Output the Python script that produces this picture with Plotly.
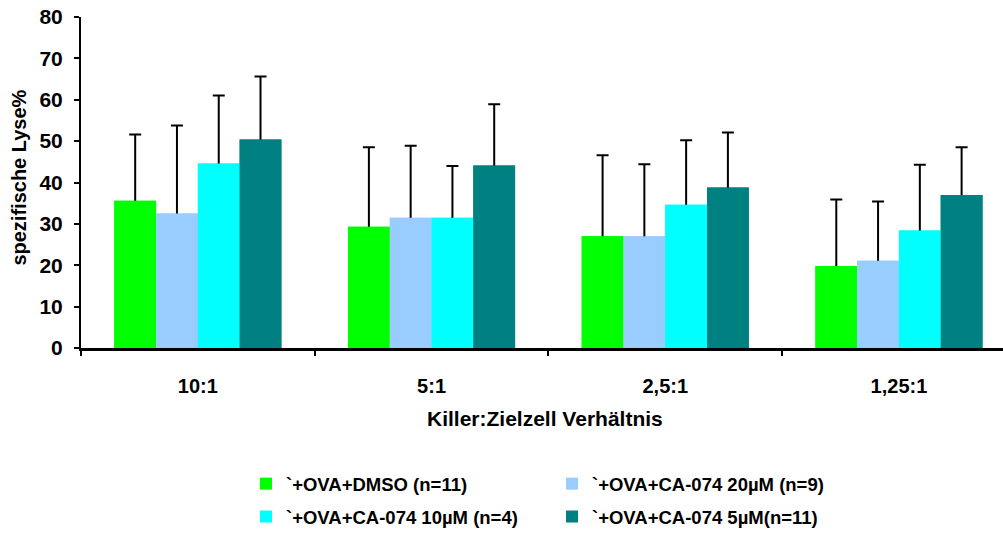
import plotly.graph_objects as go

# Effector:target ratios on the x axis
categories = ["10:1", "5:1", "2,5:1", "1,25:1"]

# Mean specific lysis (%) per treatment group
dmso_mean = [35.6, 29.3, 27.0, 19.8]
ca20_mean = [32.5, 31.5, 27.0, 21.1]
ca10_mean = [44.6, 31.5, 34.6, 28.4]
ca5_mean = [50.4, 44.1, 38.8, 37.0]

# Upper error (SD) per treatment group
dmso_err = [16.0, 19.2, 19.6, 16.1]
ca20_err = [21.3, 17.4, 17.4, 14.3]
ca10_err = [16.4, 12.5, 15.6, 15.9]
ca5_err = [15.2, 14.8, 13.3, 11.5]

series_names = [
    "`+OVA+DMSO (n=11)",
    "`+OVA+CA-074 20µM (n=9)",
    "`+OVA+CA-074 10µM (n=4)",
    "`+OVA+CA-074 5µM(n=11)",
]
series_means = [dmso_mean, ca20_mean, ca10_mean, ca5_mean]
series_errs = [dmso_err, ca20_err, ca10_err, ca5_err]
colors = ["#00FF00", "#99CCFF", "#00FFFF", "#008080"]
legend_ids = ["legend", "legend", "legend2", "legend2"]

FONT = "Liberation Sans, Arial, Helvetica, sans-serif"

# Error-bar stems start a little inside the bar so the lower cap is hidden
# underneath the overlay bars
STEM_INSET = 0.7

fig = go.Figure()

# Bars with upward error bars
for i, (name, vals, errs, col) in enumerate(zip(series_names, series_means, series_errs, colors)):
    fig.add_trace(go.Bar(
        x=categories, y=vals, name=name,
        marker=dict(color=col, line=dict(width=0)),
        offsetgroup=str(i),
        legend=legend_ids[i],
        error_y=dict(type="data", array=errs, arrayminus=[STEM_INSET] * len(errs),
                     symmetric=False, color="black", thickness=2, width=6),
        hoverinfo="skip",
    ))

# Same bars drawn again on top so the lower error-bar cap is covered
for i, (vals, col) in enumerate(zip(series_means, colors)):
    fig.add_trace(go.Bar(
        x=categories, y=vals, showlegend=False,
        marker=dict(color=col, line=dict(width=0)),
        offsetgroup=str(i), hoverinfo="skip",
    ))

PLOT_L, PLOT_R = 81, 1003
plot_w = PLOT_R - PLOT_L
cat_px = 233.7
x_max = -0.5 + plot_w / cat_px

PLOT_T, PLOT_B = 17, 355
plot_h = PLOT_B - PLOT_T


def py(y_pixel):
    return (PLOT_B - y_pixel) / plot_h


def px(x_pixel):
    return (x_pixel - PLOT_L) / plot_w


legend_common = dict(
    orientation="h", xanchor="left", yanchor="middle",
    x=px(246), entrywidth=261, entrywidthmode="pixels",
    bgcolor="rgba(0,0,0,0)", borderwidth=0,
    font=dict(family=FONT, size=18.5, color="black", weight="bold"),
    itemclick=False, itemdoubleclick=False,
)

fig.update_layout(
    width=1003, height=536,
    margin=dict(l=PLOT_L, r=1003 - PLOT_R, t=PLOT_T, b=536 - PLOT_B, pad=0),
    paper_bgcolor="white", plot_bgcolor="white",
    font=dict(family=FONT, size=20, color="black", weight="bold"),
    barmode="group", bargap=0.285, bargroupgap=0,
    showlegend=True,
    legend=dict(legend_common, y=py(494)),
    legend2=dict(legend_common, y=py(528)),
    xaxis=dict(
        type="category", categoryorder="array", categoryarray=categories,
        range=[-0.5, x_max], tickson="boundaries",
        ticks="outside", ticklen=5, tickwidth=1.5, tickcolor="black",
        showline=True, linecolor="black", linewidth=2.5,
        showgrid=False, zeroline=False, ticklabelstandoff=18,
        tickfont=dict(family=FONT, size=20, color="black", weight="bold"),
    ),
    yaxis=dict(
        range=[0, 80], dtick=10, tick0=0,
        ticks="outside", ticklen=5, tickwidth=1.5, tickcolor="black",
        showline=True, linecolor="black", linewidth=2,
        showgrid=False, zeroline=False, ticklabelstandoff=7,
        tickfont=dict(family=FONT, size=21, color="black", weight="bold"),
    ),
    annotations=[
        dict(text="spezifische Lyse%", textangle=-90, xref="paper", yref="paper",
             x=px(19), y=py(181), showarrow=False, xanchor="center", yanchor="middle",
             font=dict(family=FONT, size=20, color="black", weight="bold")),
        dict(text="Killer:Zielzell Verhältnis", xref="paper", yref="paper",
             x=px(545), y=py(427), showarrow=False, xanchor="center", yanchor="middle",
             font=dict(family=FONT, size=21, color="black", weight="bold")),
    ],
)

fig.write_html("out.html")
